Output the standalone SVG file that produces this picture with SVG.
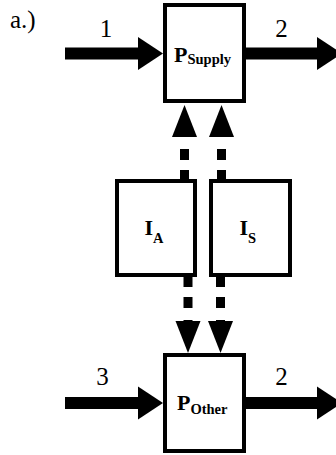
<svg xmlns="http://www.w3.org/2000/svg" width="336" height="455" viewBox="0 0 336 455">
<style>
.box{fill:#fff;stroke:#000;stroke-width:4}
.num{font-family:"Liberation Serif",serif;font-size:25px;fill:#000}
.lbl{font-family:"Liberation Serif",serif;font-weight:bold;font-size:22px;fill:#000}
.sub{font-size:14.5px}
.thick{stroke:#000;stroke-width:12;fill:none;marker-end:url(#bigHead)}
.dash{stroke:#000;stroke-width:9;fill:none;marker-end:url(#smallHead)}
</style>
<defs>
<marker id="bigHead" markerUnits="userSpaceOnUse" markerWidth="40" markerHeight="40" refX="0" refY="0" orient="auto" overflow="visible">
<path d="M0,-16.5 L25,0 L0,16.5 Z" fill="#000"/>
</marker>
<marker id="smallHead" markerUnits="userSpaceOnUse" markerWidth="40" markerHeight="40" refX="0" refY="0" orient="auto" overflow="visible">
<path d="M0,-12.5 L32,0 L0,12.5 Z" fill="#000"/>
</marker>
</defs>
<rect width="336" height="455" fill="#fff"/>
<text class="num" x="10" y="28">a.)</text>
<g id="connectors">
<path class="thick" d="M65,53.5 H138"/>
<path class="thick" d="M246,53.5 H317"/>
<path class="thick" d="M65,403 H138"/>
<path class="thick" d="M246,403 H317"/>
<path class="dash" d="M184.5,179 V137" stroke-dasharray="9 10 11 12"/>
<path class="dash" d="M221.5,179 V137" stroke-dasharray="9 10 11 12"/>
<path class="dash" d="M188,277 V321" stroke-dasharray="10 10 11 12"/>
<path class="dash" d="M220.5,277 V321" stroke-dasharray="10 10 11 12"/>
<text class="num" x="106" y="37" text-anchor="middle">1</text>
<text class="num" x="281.5" y="37" text-anchor="middle">2</text>
<text class="num" x="102.5" y="385" text-anchor="middle">3</text>
<text class="num" x="281.5" y="385" text-anchor="middle">2</text>
</g>
<g id="PSupply">
<rect class="box" x="165" y="5" width="79" height="96"/>
<text class="lbl" x="174" y="62">P<tspan class="sub" dy="2">Supply</tspan></text>
</g>
<g id="IA">
<rect class="box" x="117" y="181" width="78" height="94"/>
<text class="lbl" x="144.5" y="235">I<tspan class="sub" dy="8">A</tspan></text>
</g>
<g id="IS">
<rect class="box" x="211" y="181" width="79" height="94"/>
<text class="lbl" x="239.5" y="235">I<tspan class="sub" dy="8">S</tspan></text>
</g>
<g id="POther">
<rect class="box" x="165" y="355" width="79" height="96"/>
<text class="lbl" x="177" y="410">P<tspan class="sub" dy="4">Other</tspan></text>
</g>
</svg>
